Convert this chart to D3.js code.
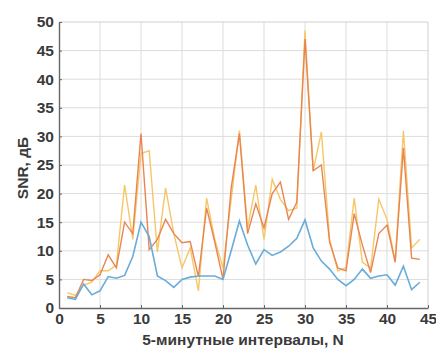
<!DOCTYPE html>
<html><head><meta charset="utf-8">
<script src="https://cdn.jsdelivr.net/npm/d3@7"></script>
<style>body{margin:0;background:#fff;} text{font-family:"Liberation Sans",Arial,sans-serif;}</style>
</head><body>
<svg id="c" width="436" height="348"></svg>
<script>
const intervals = d3.range(1, 45);
const snrBlue = [1.8,1.5,4.2,2.3,3.0,5.5,5.2,5.7,9.0,15.0,12.5,5.6,4.8,3.6,5.0,5.4,5.6,5.6,5.6,5.0,10.0,15.2,11.0,7.7,10.2,9.2,9.8,10.8,12.2,15.4,10.5,8.2,6.8,5.0,3.9,5.0,6.8,5.2,5.6,5.8,4.0,7.3,3.2,4.5];
const snrOrange = [2.0,1.8,5.0,4.8,5.8,9.3,7.0,15.0,13.0,30.5,10.2,12.0,15.5,13.0,11.4,11.6,5.5,17.5,11.5,5.0,21.0,30.5,13.0,18.2,14.0,20.0,22.0,15.5,18.5,47.0,24.0,25.0,11.5,7.0,6.5,16.5,11.0,6.2,13.0,14.5,8.0,28.0,8.7,8.5];
const snrYellow = [2.7,2.2,4.0,4.5,6.5,6.5,7.5,21.5,12.0,27.0,27.5,9.8,21.0,13.0,7.0,10.5,3.0,19.2,12.0,7.0,19.0,31.0,14.0,21.5,12.0,22.5,19.0,17.0,17.5,48.5,24.0,30.8,12.0,6.5,7.0,19.2,8.0,7.0,19.0,15.5,8.2,31.0,10.5,12.0];
const xTicks = [0,5,10,15,20,25,30,35,40,45];
const yTicks = [0,5,10,15,20,25,30,35,40,45,50];
const xLabel = "5-минутные интервалы, N";
const yLabel = "SNR, дБ";

const svg = d3.select("#c");
const L=59, R=428, T=22, B=308;
const x = d3.scaleLinear().domain([0,45]).range([L,R]);
const y = d3.scaleLinear().domain([0,50]).range([B,T]);

// grid
svg.append("g").selectAll("line").data(xTicks.slice(1,-1)).join("line")
  .attr("x1",d=>x(d)).attr("x2",d=>x(d)).attr("y1",T).attr("y2",B)
  .attr("stroke","#dcdcdc").attr("stroke-width",1);
svg.append("g").selectAll("line").data(yTicks.slice(1,-1)).join("line")
  .attr("y1",d=>y(d)).attr("y2",d=>y(d)).attr("x1",L).attr("x2",R)
  .attr("stroke","#dcdcdc").attr("stroke-width",1);
svg.append("path").attr("d",`M${L},${T}H${R}V${B}`).attr("fill","none").attr("stroke","#d0d0d0");

const line = d3.line().x((d,i)=>x(intervals[i])).y(d=>y(d));
svg.append("path").datum(snrYellow).attr("d",line).attr("fill","none").attr("stroke","#f6c766").attr("stroke-width",1.4);
svg.append("path").datum(snrOrange).attr("d",line).attr("fill","none").attr("stroke","#e88550").attr("stroke-width",1.4);
svg.append("path").datum(snrBlue).attr("d",line).attr("fill","none").attr("stroke","#68acd9").attr("stroke-width",1.6);

const xa = svg.append("g").attr("transform",`translate(0,${B})`)
  .call(d3.axisBottom(x).tickValues(xTicks).tickSizeInner(-3).tickSizeOuter(0).tickPadding(5));
const ya = svg.append("g").attr("transform",`translate(${L},0)`)
  .call(d3.axisLeft(y).tickValues(yTicks).tickSizeInner(-3).tickSizeOuter(0).tickPadding(5));
[xa,ya].forEach(a=>{
  a.select(".domain").attr("stroke","#666").attr("stroke-width",1.4);
  a.selectAll(".tick line").attr("stroke","#666");
  a.selectAll("text").attr("font-size",15.5).attr("font-weight","bold").attr("fill","#3a3a3a").style("font-family","Liberation Sans, Arial, sans-serif");
});

svg.append("text").attr("x",243).attr("y",345).attr("text-anchor","middle")
  .attr("font-size",15.5).attr("font-weight","bold").attr("fill","#3a3a3a").text(xLabel);
svg.append("text").attr("transform",`translate(28,${(T+B)/2+3}) rotate(-90)`).attr("text-anchor","middle")
  .attr("font-size",15.5).attr("font-weight","bold").attr("fill","#3a3a3a").text(yLabel);
</script>
</body></html>
